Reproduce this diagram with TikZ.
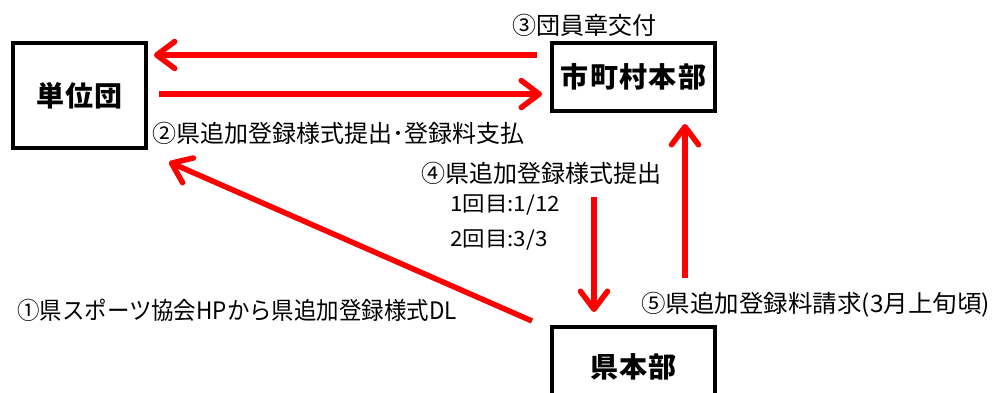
\documentclass[tikz,border=0pt]{standalone}
\usepackage{fontspec}
\setmainfont{Noto Sans CJK JP}
\usetikzlibrary{arrows.meta}
\definecolor{arrred}{RGB}{255,0,0}
\tikzset{
  box/.style={draw=black, line width=4pt, inner sep=0pt, font=\fontsize{28}{30}\selectfont\bfseries\addfontfeature{LetterSpace=5}},
  arr/.style={draw=arrred, line width=5.5pt, -{Straight Barb[length=18pt,width=27pt,round]}},
  lbl/.style={inner sep=0pt, font=\fontsize{24}{26}\selectfont},
  smalllbl/.style={inner sep=0pt, font=\fontsize{21}{23}\selectfont},
}
\begin{document}
\begin{tikzpicture}[x=1pt,y=-1pt]
\useasboundingbox (0,0) rectangle (994,392);
\clip (0,0) rectangle (994,392);
\node[box, minimum width=133pt, minimum height=105pt] (tan) at (79.5,95.5) {単位団};
\node[box, minimum width=163pt, minimum height=68pt] (shi) at (633.5,77) {市町村本部};
\node[box, minimum width=163pt, minimum height=80pt] (ken) at (633.5,367) {県本部};
% arrows
\draw[arr] ([xshift=-13pt,yshift=22pt]shi.west) -- ([xshift=6pt,yshift=40.5pt]tan.east);
\draw[arr] ([xshift=11pt,yshift=1.5pt]tan.east) -- ([xshift=-8pt,yshift=-17pt]shi.west);
\draw[arr] ([xshift=-39.5pt,yshift=-84pt]shi.south) -- ([xshift=-39.5pt,yshift=13pt]ken.north);
\draw[arr] ([xshift=51.5pt,yshift=47pt]ken.north) -- ([xshift=51.5pt,yshift=-11pt]shi.south);
\draw[arr] ([xshift=-18pt,yshift=4pt]ken.north west) -- ([xshift=21pt,yshift=-12pt]tan.south east);
% labels
\node[lbl] (l3) at (584,25) {③団員章交付};
\node[lbl, anchor=west] (l2) at (152,133) {②県追加登録様式提出･登録料支払};
\node[lbl, anchor=east] (l4) at (662,173) {④県追加登録様式提出};
\node[smalllbl, anchor=west] (d1) at (450,205) {\scalebox{1.07}[1]{1回目:1/12}};
\node[smalllbl, anchor=west] (d2) at (450,240) {\scalebox{1.07}[1]{2回目:3/3}};
\node[lbl, anchor=east] (l5) at (990,305) {\scalebox{1.02}[1]{⑤県追加登録料請求(3月上旬頃)}};
\node[lbl, anchor=west] (l1) at (17,310) {\scalebox{0.936}[1]{①県スポーツ協会HPから県追加登録様式DL}};
\end{tikzpicture}
\end{document}
